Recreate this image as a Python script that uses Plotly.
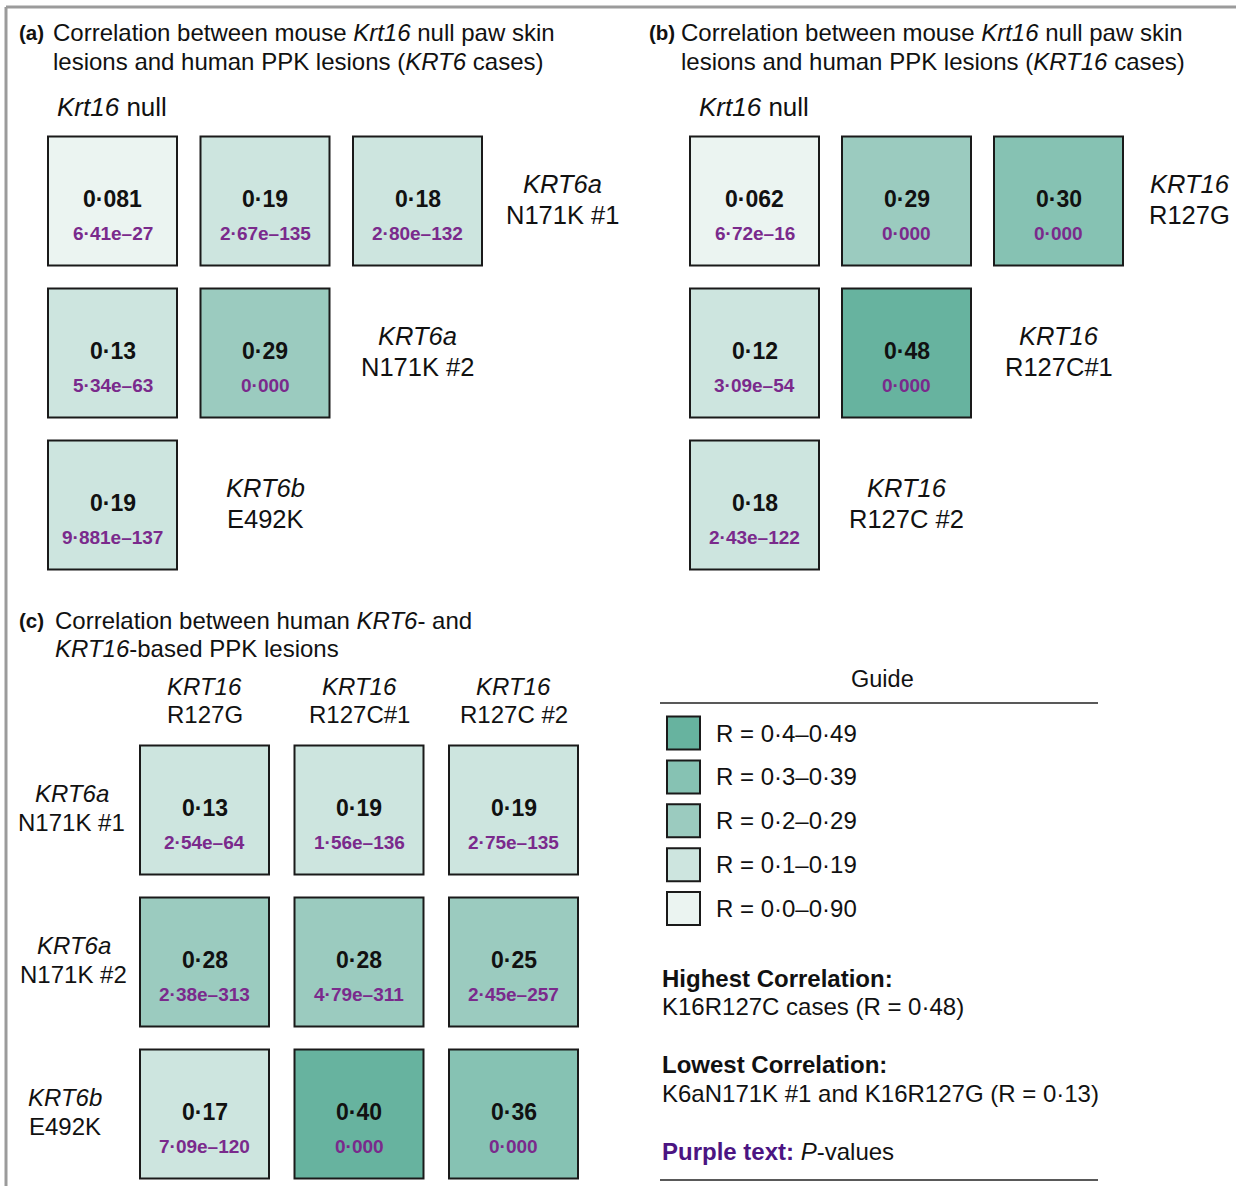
import plotly.graph_objects as go

W, H = 1236, 1186
FONT = "Liberation Sans, Arial, sans-serif"
PURPLE = "#7a2a8c"
DARK_PURPLE = "#4b1482"

# ---- data ----------------------------------------------------------------
# (a) mouse Krt16 null vs human KRT6 cases (upper-left triangle, row by row)
a_rows = [("<i>KRT6a</i>", "N171K #1"), ("<i>KRT6a</i>", "N171K #2"), ("<i>KRT6b</i>", "E492K")]
a_r = [[0.081, 0.19, 0.18], [0.13, 0.29], [0.19]]
a_p = [["6·41e–27", "2·67e–135", "2·80e–132"], ["5·34e–63", "0·000"], ["9·881e–137"]]

# (b) mouse Krt16 null vs human KRT16 cases
b_rows = [("<i>KRT16</i>", "R127G"), ("<i>KRT16</i>", "R127C#1"), ("<i>KRT16</i>", "R127C #2")]
b_r = [[0.062, 0.29, 0.30], [0.12, 0.48], [0.18]]
b_p = [["6·72e–16", "0·000", "0·000"], ["3·09e–54", "0·000"], ["2·43e–122"]]

# (c) human KRT6 vs KRT16 lesions (full 3x3 grid)
c_rows = [("<i>KRT6a</i>", "N171K #1"), ("<i>KRT6a</i>", "N171K #2"), ("<i>KRT6b</i>", "E492K")]
c_cols = [("<i>KRT16</i>", "R127G"), ("<i>KRT16</i>", "R127C#1"), ("<i>KRT16</i>", "R127C #2")]
c_r = [[0.13, 0.19, 0.19], [0.28, 0.28, 0.25], [0.17, 0.40, 0.36]]
c_p = [["2·54e–64", "1·56e–136", "2·75e–135"],
       ["2·38e–313", "4·79e–311", "2·45e–257"],
       ["7·09e–120", "0·000", "0·000"]]

# colour guide, strongest first
guide_labels = ["R = 0·4–0·49", "R = 0·3–0·39", "R = 0·2–0·29", "R = 0·1–0·19", "R = 0·0–0·90"]
guide_colors = ["#67b39f", "#86c2b3", "#9bcbbf", "#cde5df", "#ebf4f1"]


def bin_color(r):
    level = min(int(r * 10), 4)
    return guide_colors[4 - level]


def fmt_r(r):
    s = f"{r:.3f}" if r < 0.1 else f"{r:.2f}"
    return s.replace(".", "·")


def px(x):
    return x / W


def py(y):
    return 1 - y / H


def grid_axes(cx0, cy0, pitch_x, pitch_y, xr, yr):
    x0, x1 = cx0 + xr[0] * pitch_x, cx0 + xr[1] * pitch_x
    y0, y1 = cy0 + yr[0] * pitch_y, cy0 + yr[1] * pitch_y
    xa = dict(domain=[px(x0), px(x1)], range=list(xr), visible=False, fixedrange=True)
    ya = dict(domain=[py(y1), py(y0)], range=[yr[1], yr[0]], visible=False, fixedrange=True)
    return xa, ya


fig = go.Figure()
annotations = []
shapes = []

CELL = 129


def add_cells(rvals, pvals, axn):
    xs, ys, cols = [], [], []
    for i, row in enumerate(rvals):
        for j, r in enumerate(row):
            xs.append(j)
            ys.append(i)
            cols.append(bin_color(r))
            annotations.append(dict(x=j, y=i, xref=f"x{axn}", yref=f"y{axn}",
                                    text=f"<b>{fmt_r(r)}</b>", showarrow=False, yshift=2,
                                    font=dict(family=FONT, size=23, color="#111")))
            annotations.append(dict(x=j, y=i, xref=f"x{axn}", yref=f"y{axn}",
                                    text=f"<b>{pvals[i][j]}</b>", showarrow=False, yshift=-32,
                                    font=dict(family=FONT, size=19, color=PURPLE)))
    fig.add_trace(go.Scatter(
        x=xs, y=ys, mode="markers", xaxis=f"x{axn}", yaxis=f"y{axn}",
        marker=dict(symbol="square", size=CELL, color=cols,
                    line=dict(color="#1a1a1a", width=2)),
        cliponaxis=False, hoverinfo="skip", showlegend=False))


def two_line(x, y, axn, lines, up, down, size, xshift=0):
    # gene name above, variant below, centred on (x, y)
    for text, shift in zip(lines, (up, -down)):
        annotations.append(dict(x=x, y=y, xref=f"x{axn}", yref=f"y{axn}", text=text,
                                showarrow=False, xshift=xshift, yshift=shift,
                                font=dict(family=FONT, size=size, color="#111")))


# panel axes
xa1, ya1 = grid_axes(112.5, 201, 152.5, 152, (-0.5, 3.3), (-0.6, 2.6))
xa2, ya2 = grid_axes(754.5, 201, 152, 152, (-0.5, 3.0), (-0.6, 2.6))
xa3, ya3 = grid_axes(204.5, 810, 154.5, 152, (-1.2, 2.5), (-0.85, 2.45))
xa4, ya4 = grid_axes(683.5, 733, 44, 43.9, (-0.5, 0.5), (-0.5, 4.5))

add_cells(a_r, a_p, 1)
add_cells(b_r, b_p, 2)
add_cells(c_r, c_p, 3)

# row labels beside the last cell of each triangular row
for axn, labels, rvals, nudge in [(1, a_rows, a_r, [-8, 0, 0]), (2, b_rows, b_r, [-21, 0, 0])]:
    for i, lab in enumerate(labels):
        two_line(len(rvals[i]), i, axn, lab, 17, 14, 25.5, xshift=nudge[i])

# panel (c) headers
for j, lab in enumerate(c_cols):
    two_line(j, -0.72, 3, lab, 14, 14, 24)
for i, (lab, nudge) in enumerate(zip(c_rows, [0, 2, -7])):
    two_line(-0.86, i, 3, lab, 17, 12, 24, xshift=nudge)

# guide swatches
fig.add_trace(go.Scatter(
    x=[0] * len(guide_colors), y=list(range(len(guide_colors))), mode="markers",
    xaxis="x4", yaxis="y4",
    marker=dict(symbol="square", size=33, color=guide_colors,
                line=dict(color="#1a1a1a", width=2)),
    cliponaxis=False, hoverinfo="skip", showlegend=False))
for i, lab in enumerate(guide_labels):
    annotations.append(dict(x=0, y=i, xref="x4", yref="y4", text=lab, showarrow=False,
                            xanchor="left", xshift=30, yshift=0,
                            font=dict(family=FONT, size=24, color="#111")))


def paper_text(x, y, text, size=24, anchor="left", color="#111"):
    annotations.append(dict(x=px(x), y=py(y), xref="paper", yref="paper", text=text,
                            showarrow=False, xanchor=anchor, yanchor="middle", align="left",
                            font=dict(family=FONT, size=size, color=color)))


# panel titles
paper_text(17, 33, "<b>(a)</b>", size=20.5)
paper_text(51, 33, "Correlation between mouse <i>Krt16</i> null paw skin")
paper_text(51, 62, "lesions and human PPK lesions (<i>KRT6</i> cases)")
paper_text(55, 107, "<i>Krt16</i> null", size=26)

paper_text(647, 33, "<b>(b)</b>", size=20.5)
paper_text(679, 33, "Correlation between mouse <i>Krt16</i> null paw skin")
paper_text(679, 62, "lesions and human PPK lesions (<i>KRT16</i> cases)")
paper_text(697, 107, "<i>Krt16</i> null", size=26)

paper_text(17, 620, "<b>(c)</b>", size=20.5)
paper_text(53, 620, "Correlation between human <i>KRT6</i>- and")
paper_text(53, 649, "<i>KRT16</i>-based PPK lesions")

# guide header and notes
paper_text(882, 679, "Guide", size=23.5, anchor="center")
all_r = [v for grid in (a_r, b_r, c_r) for row in grid for v in row]
paper_text(660, 978, "<b>Highest Correlation:</b>")
paper_text(660, 1006, f"K16R127C cases (R = {fmt_r(max(all_r))})")
low_c = min(v for row in c_r for v in row)
paper_text(660, 1064, "<b>Lowest Correlation:</b>")
paper_text(660, 1093, f"K6aN171K #1 and K16R127G (R = {fmt_r(low_c)})")
paper_text(660, 1151, f"<b><span style='color:{DARK_PURPLE}'>Purple text:</span></b> <i>P</i>-values")

# frame lines
shapes.append(dict(type="line", xref="paper", yref="paper", x0=px(6), x1=1, y0=py(7), y1=py(7),
                   line=dict(color="#9b9b9b", width=3)))
shapes.append(dict(type="line", xref="paper", yref="paper", x0=px(6), x1=px(6), y0=py(7), y1=0,
                   line=dict(color="#9b9b9b", width=3)))
shapes.append(dict(type="line", xref="paper", yref="paper", x0=px(660), x1=px(1098),
                   y0=py(703), y1=py(703), line=dict(color="#222", width=1.5)))
shapes.append(dict(type="line", xref="paper", yref="paper", x0=px(660), x1=px(1098),
                   y0=py(1180), y1=py(1180), line=dict(color="#222", width=1.5)))

fig.update_layout(
    width=W, height=H, margin=dict(l=0, r=0, t=0, b=0),
    paper_bgcolor="white", plot_bgcolor="rgba(0,0,0,0)", showlegend=False,
    xaxis=dict(xa1, anchor="y"), yaxis=dict(ya1, anchor="x"),
    xaxis2=dict(xa2, anchor="y2"), yaxis2=dict(ya2, anchor="x2"),
    xaxis3=dict(xa3, anchor="y3"), yaxis3=dict(ya3, anchor="x3"),
    xaxis4=dict(xa4, anchor="y4"), yaxis4=dict(ya4, anchor="x4"),
    annotations=annotations, shapes=shapes,
    font=dict(family=FONT),
)

fig.write_html("out.html", config={"displayModeBar": False})
